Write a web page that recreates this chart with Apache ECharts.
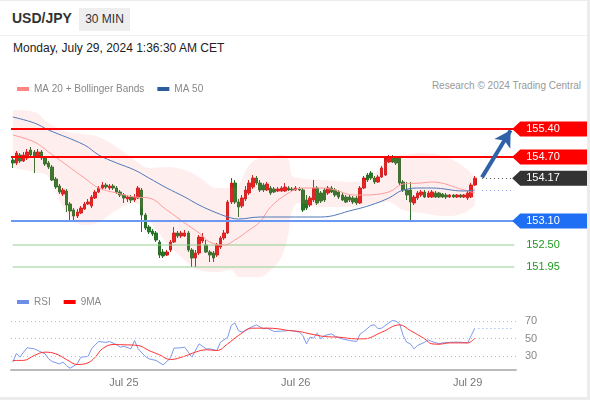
<!DOCTYPE html>
<html>
<head>
<meta charset="utf-8">
<title>USD/JPY 30 MIN</title>
<script src="https://cdn.jsdelivr.net/npm/echarts@6/dist/echarts.min.js"></script>
<style>
  html, body { margin: 0; padding: 0; background: #ececec; }
  #wrap { position: relative; width: 590px; height: 400px; overflow: hidden;
          font-family: Arial, "Liberation Sans", sans-serif; }
  #panel { position: absolute; left: 0; top: 1px; width: 587px; height: 396px; background: #fff; }
  #sep { position: absolute; left: 0; top: 35px; width: 587px; height: 1px; background: #f0f0f0; }
  #sym { position: absolute; left: 12px; top: 10px; font-size: 14px; font-weight: bold; color: #333; }
  #tf { position: absolute; left: 79px; top: 8px; width: 51px; height: 23px; line-height: 23px;
        background: #eeeeee; color: #333; font-size: 12px; text-align: center; }
  #date { position: absolute; left: 13px; top: 41px; font-size: 12px; color: #222; }
  #copy { position: absolute; right: 9px; top: 80px; font-size: 10px; color: #999; }
  #chart { position: absolute; left: 0; top: 0; width: 590px; height: 400px; }
</style>
</head>
<body>
<div id="wrap">
  <div id="panel"></div>
  <div id="sep"></div>
  <div id="sym">USD/JPY</div>
  <div id="tf">30 MIN</div>
  <div id="date">Monday, July 29, 2024 1:36:30 AM CET</div>
  <div id="copy">Research © 2024 Trading Central</div>
  <div id="chart"></div>
</div>
<script>
// 30 min candles, Jul 24 08:30 -> Jul 29 01:00
var candleOpen = [154.625,154.55,154.75,154.60,154.675,154.875,154.825,154.725,154.825,154.675,
  154.55,154.45,154.15,153.975,153.775,153.85,153.525,153.375,153.225,153.30,
  153.40,153.525,153.475,153.675,153.825,153.925,154.00,153.925,153.975,153.925,
  153.825,153.75,153.65,153.70,153.625,153.675,153.875,153.25,152.95,152.85,
  152.80,152.575,152.325,152.25,152.375,152.575,152.80,152.725,152.725,152.80,
  152.375,152.175,152.30,152.60,152.50,152.325,152.30,152.25,152.45,152.675,
  152.80,153.575,154.05,153.575,153.475,153.65,153.80,153.95,154.175,154.05,
  154.00,153.875,153.925,153.90,153.85,153.85,153.85,153.925,153.90,153.875,
  153.90,153.875,153.625,153.50,153.625,153.925,153.80,153.875,153.80,153.925,
  153.875,153.825,153.75,153.70,153.70,153.675,153.675,153.55,153.925,154.25,
  154.30,154.175,154.075,154.20,154.25,154.575,154.70,154.675,154.675,154.075,
  153.875,153.875,153.55,153.675,153.75,153.825,153.70,153.70,153.80,153.80,
  153.775,153.75,153.70,153.75,153.70,153.75,153.70,153.675,153.70,154.00];
var candleClose = [154.55,154.80,154.60,154.75,154.825,154.75,154.725,154.825,154.675,154.525,
  154.45,154.125,153.95,153.825,153.875,153.50,153.35,153.225,153.325,153.425,
  153.525,153.575,153.70,153.825,153.925,154.00,153.95,153.975,153.925,153.825,
  153.75,153.675,153.70,153.625,153.70,153.925,153.25,152.925,152.825,152.775,
  152.625,152.25,152.225,152.325,152.575,152.80,152.725,152.80,152.80,152.375,
  152.175,152.30,152.70,152.70,152.325,152.25,152.175,152.50,152.675,152.80,
  153.575,154.05,153.575,153.45,153.675,153.875,154.05,154.175,154.05,153.875,
  153.875,154.025,153.80,153.825,153.90,153.925,153.95,153.875,153.875,153.925,
  153.875,153.375,153.425,153.675,153.925,153.55,153.60,153.625,153.925,153.825,
  153.75,153.70,153.625,153.575,153.625,153.575,153.55,153.925,154.175,154.125,
  154.175,154.075,154.20,154.425,154.675,154.70,154.575,154.55,154.05,153.875,
  153.75,153.575,153.70,153.80,153.825,153.70,153.80,153.825,153.70,153.70,
  153.70,153.70,153.75,153.70,153.75,153.70,153.75,153.80,154.00,154.17];
var candleHigh = [154.675,154.85,154.80,154.825,154.90,154.95,154.875,154.90,154.875,154.725,
  154.60,154.50,154.20,154.025,153.925,153.90,153.575,153.425,153.40,153.475,
  153.575,153.65,153.75,153.875,153.975,154.075,154.05,154.025,154.025,153.975,
  153.875,153.80,153.75,153.75,153.775,153.975,153.925,153.30,153.00,152.90,
  152.85,152.625,152.40,152.375,152.625,152.95,152.85,152.85,152.875,152.85,
  152.425,152.375,152.75,152.80,152.625,152.375,152.35,152.55,152.725,152.875,
  153.625,154.175,154.125,153.65,153.75,153.975,154.125,154.25,154.225,154.125,
  154.05,154.075,153.975,153.95,153.95,153.975,154.05,153.975,153.95,153.975,
  153.95,153.925,153.75,153.725,154.125,153.975,153.85,153.925,153.975,153.975,
  153.925,153.875,153.80,153.75,153.75,153.725,153.725,153.975,154.225,154.30,
  154.35,154.225,154.25,154.475,154.725,154.75,154.75,154.725,154.725,154.125,
  154.075,154.075,153.75,153.85,153.875,153.875,153.85,153.875,153.85,153.825,
  153.80,153.80,153.775,153.775,153.775,153.775,153.775,153.85,154.05,154.225];
var candleLow = [154.425,154.50,154.55,154.575,154.625,154.70,154.30,154.675,154.625,154.475,
  154.40,154.10,153.90,153.775,153.725,153.325,153.075,153.075,153.175,153.275,
  153.375,153.50,153.425,153.65,153.80,153.90,153.90,153.875,153.875,153.775,
  153.70,153.55,153.575,153.55,153.575,153.65,152.825,152.875,152.775,152.725,
  152.575,152.175,152.175,152.225,152.325,152.55,152.675,152.675,152.70,152.325,
  151.95,151.95,152.25,152.55,152.30,152.075,152.075,152.20,152.40,152.625,
  152.775,153.525,153.525,153.20,153.425,153.60,153.75,153.90,154.00,153.825,
  153.825,153.85,153.75,153.80,153.825,153.825,153.825,153.85,153.85,153.85,
  153.85,153.325,153.375,153.45,153.575,153.50,153.55,153.575,153.75,153.80,
  153.70,153.65,153.60,153.55,153.575,153.525,153.50,153.525,153.90,154.075,
  154.125,154.025,154.05,154.175,154.225,154.55,154.55,154.50,154.00,153.825,
  153.625,153.075,153.50,153.625,153.70,153.675,153.675,153.675,153.675,153.675,
  153.675,153.65,153.675,153.675,153.675,153.675,153.675,153.625,153.675,153.975];

// indicator lines: [slot index] -> value
var ma50Idx = [0,6,10,20,24,29,34,38,43,48,52,57,61,63,69,72,86,95,100,105,109,114,117,126,129];
var ma50Val = [155.70,155.55,155.375,155.00,154.75,154.55,154.375,154.175,153.925,153.70,153.50,153.30,
  153.175,153.15,153.20,153.20,153.20,153.375,153.50,153.675,153.875,153.925,153.925,153.85,153.875];
var ma20Idx = [0,6,10,15,20,24,29,34,38,43,48,52,55,59,62,66,69,72,77,81,86,90,95,98,105,109,114,117,126,129];
var ma20Val = [155.25,155.075,154.825,154.50,154.175,153.925,153.80,153.70,153.675,153.375,153.05,152.80,
  152.575,152.50,152.625,152.875,153.075,153.45,153.80,153.925,153.925,153.875,153.75,153.75,153.825,
  154.025,154.05,154.075,153.875,153.80];
var bandIdx = [0,6,10,15,20,24,29,34,38,43,48,52,57,61,63,66,69,72,75,77,78,80,86,95,100,105,109,114,121,126,129];
var bandUpper = [155.875,155.825,155.55,155.325,155.275,155.20,154.95,154.625,154.425,154.45,154.375,154.20,
  153.925,153.925,154.00,154.50,154.675,154.725,154.75,154.625,154.225,154.175,154.125,154.075,154.20,
  154.675,154.75,154.80,154.70,154.45,154.20];
var bandLower = [154.425,154.325,154.20,153.30,153.00,153.075,153.375,153.55,153.125,152.55,152.125,151.875,
  151.825,151.875,151.70,151.70,151.70,151.875,152.20,152.80,153.375,153.55,153.45,153.45,153.525,
  153.575,153.375,153.30,153.225,153.30,153.50];

var rsiIdx = [0,1,2,3,4,6,7,9,10,11,13,14,15,16,18,19,21,22,23,24,26,27,29,30,31,33,34,35,37,38,40,42,43,44,45,
  47,48,49,50,52,54,55,57,58,60,61,62,63,64,66,68,70,71,73,75,77,78,80,81,82,83,84,85,86,87,89,90,92,94,96,
  97,98,100,101,102,103,105,106,107,108,109,110,111,112,113,115,116,117,119,120,123,125,127,128,129];
var rsiVal = [22.9,32.9,28.6,34.4,39.4,38.2,36.3,32.5,26.8,23.7,21,23,19.1,16,21,28.6,29.5,38.2,42.8,46.6,45.5,
  46.6,42.8,40.1,41,38.2,47.7,38.2,29.5,26.8,24.9,19.9,23.7,27.5,38.9,39.4,40.1,34.4,28.6,43.9,38.2,38.2,36.3,
  45.8,51.5,64.9,67.9,59.1,57.2,61.8,65.6,61.1,61.8,58,58.4,59.1,59.1,57.2,53.4,43.9,51.5,50.4,56.1,49.6,53.4,
  55.3,52.6,49.6,47.7,46.6,55.3,58,64.9,65.6,61.1,61.8,67.9,70.6,69.8,66.8,53.4,45.8,43.9,38.2,42,45.8,48.5,
  46.6,43.9,45,45.8,45.8,45,53.4,61.8];
var rsiMaIdx = [0,3,6,9,12,15,18,21,23,25,28,31,35,38,41,44,48,51,54,57,60,63,67,71,74,77,80,83,87,91,96,98,
  103,108,111,115,117,119,122,127,129];
var rsiMaVal = [24.9,25,30.6,34.4,32.5,26,20.3,22.2,28.6,38.2,43.1,42.8,42,36.3,31.3,26,29.8,34.4,37.1,36.3,
  43.9,53.4,61.8,61.8,61.1,59.1,58,55.3,52.3,51.5,49.6,49.6,57.2,65.6,59.1,49.6,43.9,43.5,45,45,50.4];

// key levels
var resistance = [155.40, 154.70];
var lastPrice = 154.17;
var support = [153.10, 152.50, 151.95];
var rsiLevels = [70, 50, 30];

// x axis
var slotCount = 141;
var dayTickIdx = [31, 79, 127];
var dayTickLabels = ['Jul 25', 'Jul 26', 'Jul 29'];
var arrowFrom = [131, 154.19];
var arrowTo = [139, 155.37];

var slots = [];
for (var i = 0; i < slotCount; i++) slots.push(String(i));

function pairs(idx, val) {
  return idx.map(function (x, k) { return [x, val[k]]; });
}
var candles = candleOpen.map(function (o, k) {
  return [o, candleClose[k], candleLow[k], candleHigh[k]];
});
var bandDiff = bandUpper.map(function (u, k) { return +(u - bandLower[k]).toFixed(3); });

var lastMa50 = ma50Val[ma50Val.length - 1];
var lastRsi = rsiVal[rsiVal.length - 1];

// thin green target lines, full width of the price panel
function levelLine(v) {
  return {
    type: 'line', xAxisIndex: 0, yAxisIndex: 0, silent: true, showSymbol: false, z: 3,
    data: [[0, v], [slotCount - 1, v]],
    lineStyle: { color: '#8fd08f', width: 1 }
  };
}

var chart = echarts.init(document.getElementById('chart'), null, { renderer: 'canvas' });

var option = {
  animation: false,
  backgroundColor: 'transparent',
  textStyle: { fontFamily: 'Arial, "Liberation Sans", sans-serif' },
  legend: [
    {
      data: ['MA 20 + Bollinger Bands', 'MA 50'],
      left: 12, top: 79, icon: 'rect', itemWidth: 12, itemHeight: 4, itemGap: 13,
      selectedMode: false,
      textStyle: { color: '#888', fontSize: 10 }
    },
    {
      data: ['RSI', '9MA'],
      left: 12, top: 292, icon: 'rect', itemWidth: 12, itemHeight: 4, itemGap: 13,
      selectedMode: false,
      textStyle: { color: '#888', fontSize: 10 }
    }
  ],
  grid: [
    { left: 11, right: 74, top: 100, height: 180 },
    { left: 11, right: 74, top: 307, height: 63 }
  ],
  xAxis: [
    { type: 'category', gridIndex: 0, data: slots, boundaryGap: true, show: false },
    {
      type: 'category', gridIndex: 1, data: slots, boundaryGap: true,
      axisLine: { lineStyle: { color: '#bbb', width: 2 } },
      axisTick: { show: false },
      axisLabel: {
        color: '#777', fontSize: 11, margin: 7,
        interval: function (idx) { return dayTickIdx.indexOf(idx) >= 0; },
        formatter: function (v, idx) {
          var k = dayTickIdx.indexOf(idx);
          return k >= 0 ? dayTickLabels[k] : '';
        }
      }
    }
  ],
  yAxis: [
    { type: 'value', gridIndex: 0, min: 151.625, max: 156.125, show: false, splitLine: { show: false } },
    { type: 'value', gridIndex: 1, min: 14, max: 86, show: false, splitLine: { show: false } }
  ],
  series: [
    {
      name: 'bbLower', type: 'line', xAxisIndex: 0, yAxisIndex: 0,
      data: pairs(bandIdx, bandLower), stack: 'bb', smooth: 0.4, showSymbol: false, silent: true,
      lineStyle: { opacity: 0 }
    },
    {
      name: 'bbBand', type: 'line', xAxisIndex: 0, yAxisIndex: 0,
      data: pairs(bandIdx, bandDiff), stack: 'bb', smooth: 0.4, showSymbol: false, silent: true,
      lineStyle: { opacity: 0 },
      areaStyle: { color: 'rgba(255,120,120,0.18)' }
    },
    levelLine(support[1]),
    levelLine(support[2]),
    {
      name: 'MA 20 + Bollinger Bands', type: 'line', xAxisIndex: 0, yAxisIndex: 0,
      data: pairs(ma20Idx, ma20Val), smooth: 0.4, showSymbol: false, silent: true,
      color: '#ff8585',
      lineStyle: { color: '#ff9a9a', width: 1 }
    },
    {
      name: 'MA 50', type: 'line', xAxisIndex: 0, yAxisIndex: 0,
      data: pairs(ma50Idx, ma50Val), smooth: 0.4, showSymbol: false, silent: true,
      color: '#2d5c9e',
      lineStyle: { color: '#4f78b8', width: 1 }
    },
    {
      name: 'USD/JPY', type: 'candlestick', xAxisIndex: 0, yAxisIndex: 0,
      data: candles, barWidth: 3, silent: true,
      itemStyle: {
        color: '#ec1515', color0: '#1e7b22',
        borderColor: '#d01a1a', borderColor0: '#2a6e2a', borderWidth: 1
      },
      markLine: {
        silent: true, symbol: 'none', animation: false,
        label: { show: false },
        data: [
          { yAxis: resistance[0], lineStyle: { color: '#ff0000', width: 2, type: 'solid' } },
          { yAxis: resistance[1], lineStyle: { color: '#ff0000', width: 2, type: 'solid' } },
          { yAxis: support[0], lineStyle: { color: '#6b98f2', width: 2, type: 'solid' } },
          [
            { coord: [131, lastPrice], lineStyle: { color: '#555', width: 1, type: [1, 3] } },
            { coord: [140, lastPrice] }
          ],
          [
            { coord: [131, lastMa50], lineStyle: { color: '#8ea8e6', width: 1, type: [1, 3] } },
            { coord: [140, lastMa50] }
          ],
          [
            { coord: arrowFrom, symbol: 'none', lineStyle: { color: '#2f62a8', width: 4, type: 'solid' } },
            { coord: arrowTo, symbol: 'arrow', symbolSize: [14, 16] }
          ]
        ]
      }
    },
    {
      name: 'RSI', type: 'line', xAxisIndex: 1, yAxisIndex: 1,
      data: pairs(rsiIdx, rsiVal), showSymbol: false, silent: true,
      color: '#6d8ee8',
      lineStyle: { color: '#7c98ec', width: 1 },
      markLine: {
        silent: true, symbol: 'none', animation: false,
        lineStyle: { color: '#bdbdbd', width: 1, type: [1, 3] },
        label: { position: 'end', distance: 9, color: '#888', fontSize: 11,
                 formatter: function (p) { return String(p.value); } },
        data: rsiLevels.map(function (v) { return { yAxis: v }; }).concat([[
          { coord: [130, lastRsi], label: { show: false }, lineStyle: { color: '#8ea8e6', width: 1, type: [1, 3] } },
          { coord: [140, lastRsi] }
        ]])
      }
    },
    {
      name: '9MA', type: 'line', xAxisIndex: 1, yAxisIndex: 1,
      data: pairs(rsiMaIdx, rsiMaVal), smooth: 0.4, showSymbol: false, silent: true,
      color: '#ff0000',
      lineStyle: { color: '#ff3030', width: 1 }
    }
  ]
};
chart.setOption(option);

// price tags on the right
var tagDefs = [
  { v: resistance[0], bg: '#ff0000' },
  { v: resistance[1], bg: '#ff0000' },
  { v: lastPrice, bg: '#333333' },
  { v: support[0], bg: '#1f6ff5' },
  { v: support[1], bg: null, fg: '#1f9a1f' },
  { v: support[2], bg: null, fg: '#1f9a1f' }
];
var tipX = chart.convertToPixel({ xAxisIndex: 0 }, 140) - 2;
var graphics = [];
tagDefs.forEach(function (t) {
  var y = chart.convertToPixel({ yAxisIndex: 0 }, t.v);
  if (t.bg) {
    graphics.push({
      type: 'polygon', silent: true, z: 100,
      shape: { points: [[tipX, y], [tipX + 8, y - 7.5], [587, y - 7.5], [587, y + 7.5], [tipX + 8, y + 7.5]] },
      style: { fill: t.bg }
    });
  }
  graphics.push({
    type: 'text', silent: true, z: 101,
    x: tipX + 14, y: y,
    style: {
      text: t.v.toFixed(2), fill: t.bg ? '#fff' : t.fg,
      font: '11px Arial, "Liberation Sans", sans-serif',
      textVerticalAlign: 'middle', verticalAlign: 'middle'
    }
  });
});
chart.setOption({ graphic: graphics });
</script>
</body>
</html>
